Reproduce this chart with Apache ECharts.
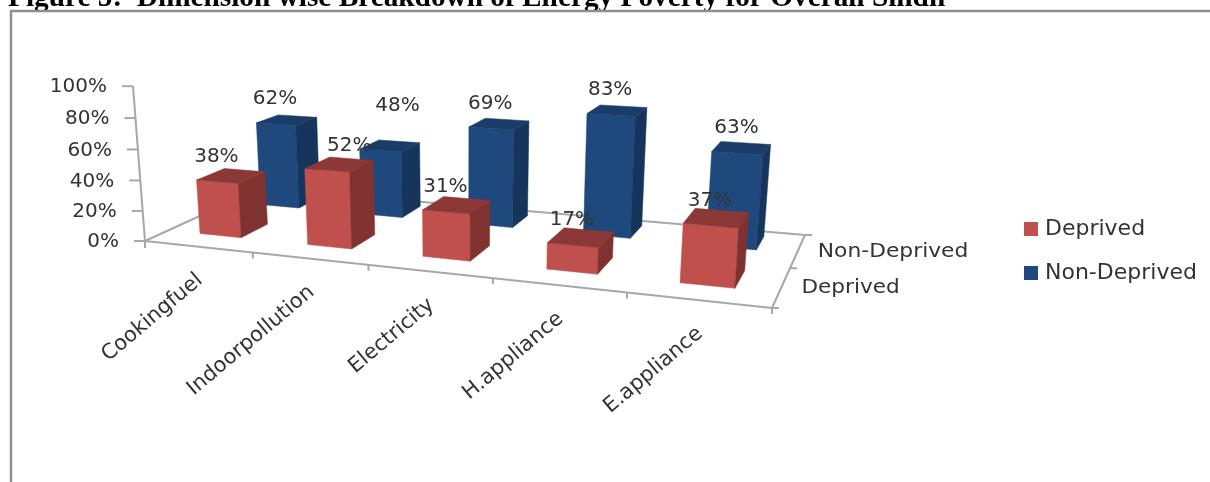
<!DOCTYPE html>
<html>
<head>
<meta charset="utf-8">
<style>html,body{margin:0;padding:0;background:#fff}#chart{width:1210px;height:482px}</style>
<script src="https://cdn.jsdelivr.net/npm/echarts@6/dist/echarts.min.js"></script>
</head>
<body>
<div id="chart"></div>
<script>
// Values
const categories = ['Cookingfuel', 'Indoorpollution', 'Electricity', 'H.appliance', 'E.appliance'];
const deprived = [38, 52, 31, 17, 37];
const nonDeprived = [62, 48, 69, 83, 63];
const valueTicks = [0, 20, 40, 60, 80, 100];
const depthNames = ['Deprived', 'Non-Deprived'];

// Perspective floor: front-left, front-right, back-right, back-left
const floorQuad = [[145, 241], [772, 308], [805, 235], [261, 188]];
const verticalVanish = [463, 4340];
const heightScale = -0.0345;
// The value axis stands slightly taller than the bars' own scale
const wallStretch = 1.055;

// Hidden cartesian space that carries the axis scales into the projection
const modelGrid = { left: 100, top: 100, width: 500, height: 100 };

const FONT = '"DejaVu Sans"';
const INK = '#333333';
const AXIS = '#A8A8A8';

// Depth band and width of each bar, in floor units
const barHalfWidth = 0.195;
const rows = { front: [0.18, 0.41], back: [0.71, 0.92] };

// Two labels sit away from their default spot over the bar
const labelNudge = { Deprived: { 1: [23, 0] }, 'Non-Deprived': { 1: [18, -20] } };

function makeProjector() {
  const [[x0, y0], [x1, y1], [x2, y2], [x3, y3]] = floorQuad;
  const dx1 = x1 - x2, dx2 = x3 - x2, sx = x0 - x1 + x2 - x3;
  const dy1 = y1 - y2, dy2 = y3 - y2, sy = y0 - y1 + y2 - y3;
  const det = dx1 * dy2 - dx2 * dy1;
  const g = (sx * dy2 - dx2 * sy) / det;
  const h = (dx1 * sy - sx * dy1) / det;
  const a = x1 - x0 + g * x1, b = x3 - x0 + h * x3;
  const d = y1 - y0 + g * y1, e = y3 - y0 + h * y3;
  // u: 0..1 along the front edge, v: 0..1 into the depth, z: 0..1 of the value range
  return function (u, v, z) {
    const k = heightScale * z;
    const w = g * u + h * v + 1 + k;
    return [
      (a * u + b * v + x0 + k * verticalVanish[0]) / w,
      (d * u + e * v + y0 + k * verticalVanish[1]) / w
    ];
  };
}
const project = makeProjector();
const nCat = categories.length;

// Reads a category slot and a value through the axes, as fractions of the model space
function axisFractions(api, index, value) {
  const p = api.coord([index, value]);
  return {
    u: (p[0] - modelGrid.left) / modelGrid.width,
    z: (modelGrid.top + modelGrid.height - p[1]) / modelGrid.height
  };
}

function poly(points, fill) {
  return { type: 'polygon', shape: { points }, style: { fill, stroke: fill, lineWidth: 0.5 } };
}
function seg(a, b) {
  return { type: 'line', shape: { x1: a[0], y1: a[1], x2: b[0], y2: b[1] },
    style: { stroke: AXIS, lineWidth: 2 } };
}
function txt(text, x, y, o) {
  return { type: 'text', x, y, rotation: o.rotation || 0, scaleX: o.scaleX || 1,
    style: { text, fill: INK, font: (o.size || 20) + 'px ' + FONT,
      textAlign: o.align || 'center', textVerticalAlign: 'middle' } };
}

function barRenderer(name, row, colors) {
  return function (params, api) {
    const index = api.value(0), value = api.value(1);
    const f = axisFractions(api, index, value);
    const hw = barHalfWidth / nCat;
    const u0 = f.u - hw, u1 = f.u + hw, [v0, v1] = row, z = f.z;
    const A = project(u0, v0, 0), B = project(u1, v0, 0), C = project(u1, v1, 0);
    const At = project(u0, v0, z), Bt = project(u1, v0, z), Ct = project(u1, v1, z), Dt = project(u0, v1, z);
    const nudge = (labelNudge[name] || {})[index] || [0, 0];
    const cx = (At[0] + Bt[0]) / 2, cy = (At[1] + Bt[1]) / 2;
    return {
      type: 'group',
      children: [
        poly([A, B, Bt, At], colors[0]),
        poly([B, C, Ct, Bt], colors[1]),
        poly([At, Bt, Ct, Dt], colors[2]),
        txt(value + '%', cx - 1 + nudge[0], cy - 25 + nudge[1], {})
      ]
    };
  };
}

function frameRenderer(params, api) {
  const children = [];
  const O = project(0, 0, 0), R = project(1, 0, 0), BR = project(1, 1, 0), BL = project(0, 1, 0);
  children.push(seg(O, R), seg(R, BR), seg(BR, BL), seg(BL, O));
  // Value axis with ticks and labels
  const top = axisFractions(api, 0, 100).z * wallStretch;
  children.push(seg(O, project(0, 0, top)));
  valueTicks.forEach(function (t) {
    const p = project(0, 0, axisFractions(api, 0, t).z * wallStretch);
    children.push(seg([p[0] - 11, p[1]], p));
    children.push(txt(t + '%', p[0] - 26, p[1] + 1, { align: 'right' }));
  });
  children.push(seg(O, [O[0], O[1] + 7]));
  // Category ticks and slanted labels
  for (let i = 0; i <= nCat; i++) {
    const p = project(i / nCat, 0, 0);
    children.push(seg(p, [p[0], p[1] + 6]));
  }
  categories.forEach(function (name, i) {
    const mid = project(axisFractions(api, i, 0).u, 0, 0);
    children.push(txt(name, mid[0] + 2, mid[1] + 31, { align: 'right', size: 21, rotation: 40 * Math.PI / 180 }));
  });
  // Depth ticks and labels
  [0, 0.5, 1].forEach(function (v) {
    const p = project(1, v, 0);
    children.push(seg(p, [p[0] + 7, p[1]]));
  });
  const dFront = project(1, 0.25, 0), dBack = project(1, 0.75, 0);
  children.push(txt(depthNames[0], dFront[0] + 20, dFront[1] + 1, { align: 'left', scaleX: 1.08 }));
  children.push(txt(depthNames[1], dBack[0] + 20, dBack[1] + 1, { align: 'left', scaleX: 1.09 }));
  return { type: 'group', children };
}

const chart = echarts.init(document.getElementById('chart'), null, { renderer: 'canvas' });
chart.setOption({
  animation: false,
  backgroundColor: '#ffffff',
  title: {
    text: 'Figure 5:  Dimension wise Breakdown of Energy Poverty for Overall Sindh',
    left: 8, top: -16, padding: 0,
    textStyle: { fontFamily: '"Liberation Serif"', fontWeight: 'bold', fontSize: 29.3, color: '#000' }
  },
  legend: {
    data: ['Deprived', 'Non-Deprived'],
    orient: 'vertical', left: 1024, top: 218, padding: 0,
    itemWidth: 14, itemHeight: 14, itemGap: 22, icon: 'rect',
    textStyle: { fontFamily: FONT, fontSize: 22, color: INK, padding: [0, 0, 0, 2] }
  },
  grid: Object.assign({ containLabel: false }, modelGrid),
  xAxis: { type: 'category', data: categories, show: false },
  yAxis: { type: 'value', min: 0, max: 100, interval: 20, show: false },
  graphic: [{
    type: 'polyline', silent: true, z: 10,
    shape: { points: [[11, 482], [11, 11], [1210, 11]] },
    style: { stroke: '#8E8E8E', lineWidth: 2.5, fill: null }
  }],
  series: [
    { type: 'custom', name: 'frame', silent: true, z: 1, clip: false,
      coordinateSystem: 'cartesian2d', data: [[0, 0]], encode: { x: 0, y: 1 }, renderItem: frameRenderer },
    { type: 'custom', name: 'Non-Deprived', z: 2, clip: false, coordinateSystem: 'cartesian2d',
      itemStyle: { color: '#1F497D' }, encode: { x: 0, y: 1 },
      data: nonDeprived.map(function (v, i) { return [i, v]; }),
      renderItem: barRenderer('Non-Deprived', rows.back, ['#1F497D', '#16355C', '#193C69']) },
    { type: 'custom', name: 'Deprived', z: 3, clip: false, coordinateSystem: 'cartesian2d',
      itemStyle: { color: '#C0504D' }, encode: { x: 0, y: 1 },
      data: deprived.map(function (v, i) { return [i, v]; }),
      renderItem: barRenderer('Deprived', rows.front, ['#C0504D', '#7F3230', '#8C3836']) }
  ]
});
</script>
</body>
</html>
